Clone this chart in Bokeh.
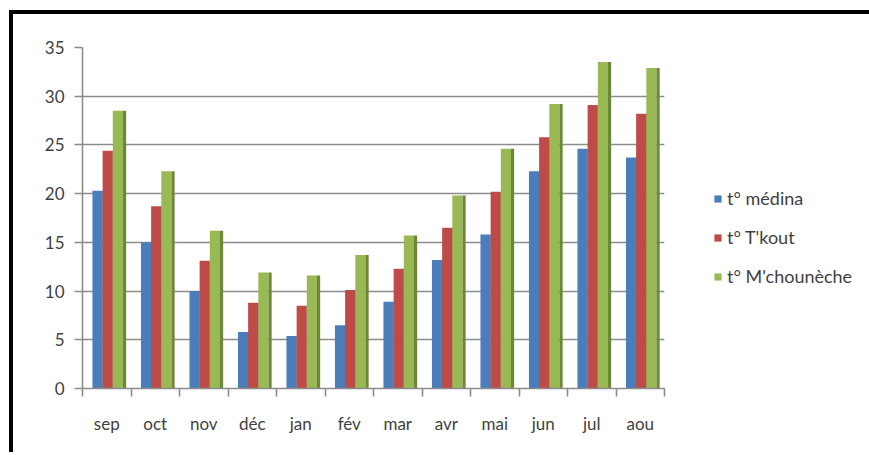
import numpy as np
from bokeh.plotting import figure
from bokeh.models import (ColumnDataSource, Range1d, FixedTicker, Legend, LegendItem)
from bokeh.transform import dodge
from bokeh.embed import file_html
from bokeh.resources import INLINE

months = ["sep", "oct", "nov", "déc", "jan", "fév", "mar", "avr", "mai", "jun", "jul", "aou"]
medina = [20.3, 15.0, 10.0, 5.8, 5.4, 6.5, 8.9, 13.2, 15.8, 22.3, 24.6, 23.7]
tkout = [24.4, 18.7, 13.1, 8.8, 8.5, 10.1, 12.3, 16.5, 20.2, 25.8, 29.1, 28.2]
mchouneche = [28.5, 22.3, 16.2, 11.9, 11.6, 13.7, 15.7, 19.8, 24.6, 29.2, 33.5, 32.9]
series_names = ["t° médina", "t° T'kout", "t° M'chounèche"]
y_ticks = [0, 5, 10, 15, 20, 25, 30, 35]

idx = np.arange(len(months)) + 0.5
src = ColumnDataSource(dict(x=idx, medina=medina, tkout=tkout, mch=mchouneche))

FONT = "Lato"
TXT = "#3f3f3f"
GRID = "#8c8c8c"

MBL, MBT, FW, FH = 69, 33, 582, 341
p = figure(frame_width=FW, frame_height=FH, x_range=Range1d(0, 12), y_range=Range1d(0, 35),
           output_backend="svg", toolbar_location=None,
           min_border_left=MBL, min_border_top=MBT,
           min_border_bottom=64, min_border_right=205,
           styles={"border-top": "4px solid black", "border-left": "4px solid black",
                   "margin-left": "9px", "margin-top": "10px"})
p.outline_line_color = None
p.background_fill_color = "white"
p.border_fill_color = "white"

faces = ["#4a7ebb", "#be4b48", "#98b954"]
sides = ["#355f91", "#913634", "#6d873a"]
cols = ["medina", "tkout", "mch"]
offs = [-0.19, 0.02, 0.23]
W = 0.21
SW = 0.065
renderers = []
for c, o, fc, sc in zip(cols, offs, faces, sides):
    r = p.vbar(x=dodge("x", o, range=p.x_range), top=c, width=W, source=src,
               fill_color=fc, line_color=None)
    p.vbar(x=dodge("x", o + W / 2 + SW / 2, range=p.x_range), top=c, width=SW, source=src,
           fill_color=sc, line_color=None)
    renderers.append(r)

p.xgrid.grid_line_color = None
p.ygrid.grid_line_color = GRID
p.ygrid.grid_line_width = 1.6
p.ygrid.ticker = FixedTicker(ticks=y_ticks)

p.yaxis.ticker = FixedTicker(ticks=y_ticks)
p.yaxis.axis_line_color = GRID
p.yaxis.axis_line_width = 1.6
p.yaxis.major_tick_line_color = GRID
p.yaxis.major_tick_line_width = 1.6
p.yaxis.major_tick_out = 8
p.yaxis.major_tick_in = 0
p.yaxis.minor_tick_line_color = None
p.yaxis.major_label_standoff = 10
p.yaxis.major_label_text_font = FONT
p.yaxis.major_label_text_font_size = "17px"
p.yaxis.major_label_text_color = TXT

p.xaxis.ticker = FixedTicker(ticks=list(idx), minor_ticks=list(range(len(months) + 1)))
p.xaxis.major_label_overrides = {float(v): m for v, m in zip(idx, months)}
p.xaxis.axis_line_color = GRID
p.xaxis.axis_line_width = 1.6
p.xaxis.major_tick_line_color = None
p.xaxis.major_tick_out = 0
p.xaxis.major_tick_in = 0
p.xaxis.minor_tick_line_color = GRID
p.xaxis.minor_tick_line_width = 1.6
p.xaxis.minor_tick_out = 8
p.xaxis.minor_tick_in = 0
p.xaxis.major_label_standoff = 16
p.xaxis.major_label_text_font = FONT
p.xaxis.major_label_text_font_size = "17px"
p.xaxis.major_label_text_color = TXT

legend = Legend(items=[LegendItem(label=n, renderers=[r]) for n, r in zip(series_names, renderers)],
                location=(49, 101), orientation="vertical")
legend.border_line_color = None
legend.background_fill_alpha = 0
legend.padding = 0
legend.margin = 0
legend.glyph_width = 9
legend.glyph_height = 9
legend.label_standoff = 5
legend.label_height = 20
legend.spacing = 17
legend.label_text_font = FONT
legend.label_text_font_size = "18px"
legend.label_text_color = TXT
p.add_layout(legend, "right")

open("out.html", "w").write(file_html(p, INLINE))
